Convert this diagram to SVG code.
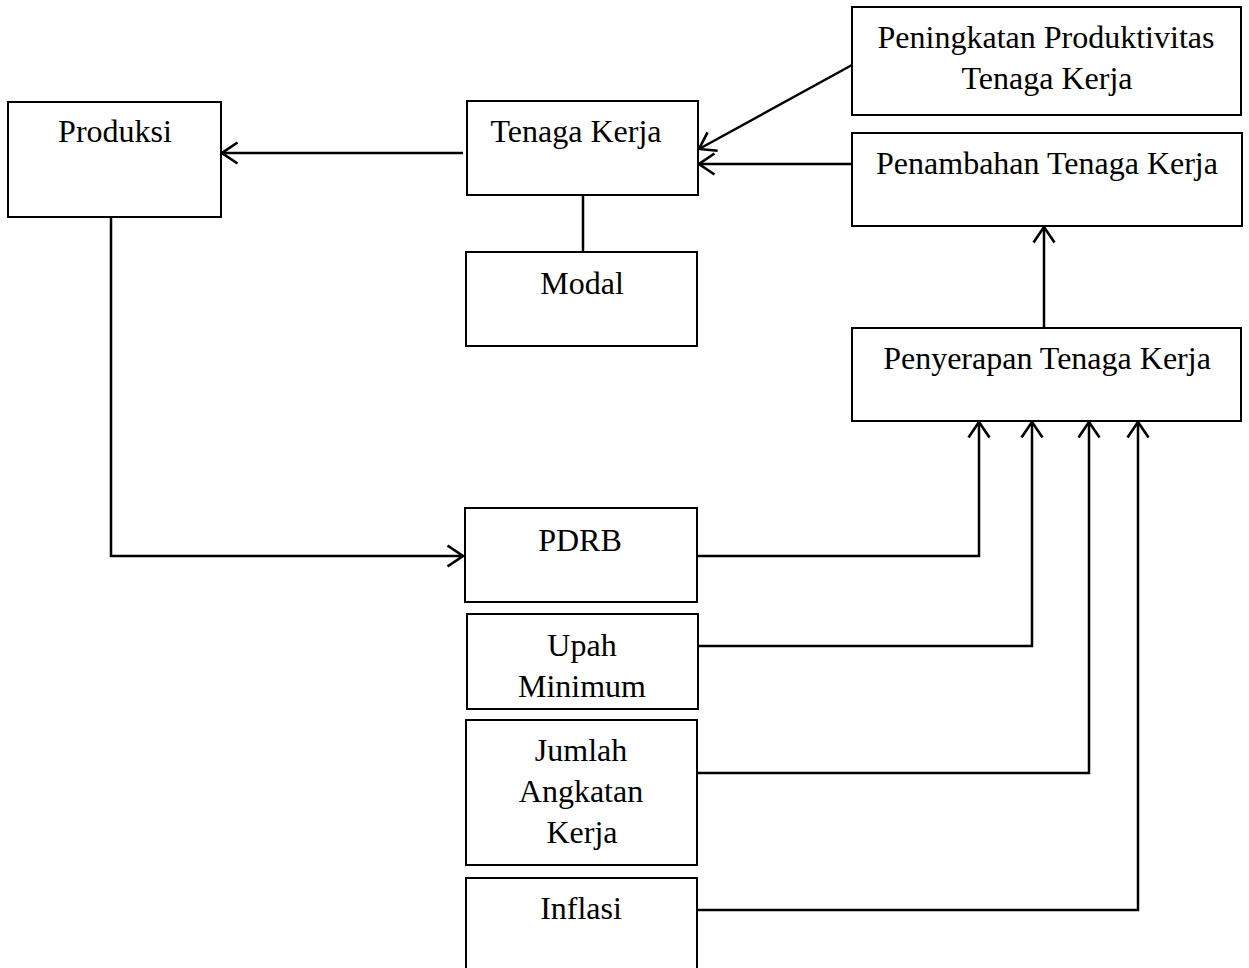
<svg xmlns="http://www.w3.org/2000/svg" width="1249" height="968" viewBox="0 0 1249 968">
<style>
.box{fill:#fff;stroke:#000;stroke-width:2}
.lbl{font-family:"Liberation Serif","Times New Roman",serif;font-size:32px;fill:#000;text-anchor:middle}
.con{fill:none;stroke:#000;stroke-width:2.5}
</style>
<defs>
<marker id="arr" viewBox="0 0 18 24" refX="16.5" refY="12" markerWidth="18" markerHeight="24" markerUnits="userSpaceOnUse" orient="auto">
<path d="M1,1.5 L16.5,12 L1,22.5" fill="none" stroke="#000" stroke-width="2.6"/>
</marker>
</defs>
<rect width="1249" height="968" fill="#fff"/>
<g id="produksi"><rect class="box" x="8" y="102" width="213" height="115"/><text class="lbl" x="115" y="142">Produksi</text></g>
<g id="tenaga-kerja"><rect class="box" x="467" y="101" width="231" height="94"/><text class="lbl" x="576" y="142">Tenaga Kerja</text></g>
<g id="modal"><rect class="box" x="466" y="252" width="231" height="94"/><text class="lbl" x="582" y="294">Modal</text></g>
<g id="peningkatan"><rect class="box" x="852" y="7" width="389" height="108"/><text class="lbl" x="1046" y="48">Peningkatan Produktivitas</text><text class="lbl" x="1047" y="89">Tenaga Kerja</text></g>
<g id="penambahan"><rect class="box" x="852" y="133" width="390" height="93"/><text class="lbl" x="1047" y="174">Penambahan Tenaga Kerja</text></g>
<g id="penyerapan"><rect class="box" x="852" y="328" width="389" height="93"/><text class="lbl" x="1047" y="369">Penyerapan Tenaga Kerja</text></g>
<g id="pdrb"><rect class="box" x="465" y="508" width="232" height="94"/><text class="lbl" x="580" y="551">PDRB</text></g>
<g id="upah"><rect class="box" x="467" y="614" width="231" height="95"/><text class="lbl" x="582" y="656">Upah</text><text class="lbl" x="582" y="697">Minimum</text></g>
<g id="jumlah"><rect class="box" x="466" y="720" width="231" height="145"/><text class="lbl" x="581" y="761">Jumlah</text><text class="lbl" x="581" y="802">Angkatan</text><text class="lbl" x="582" y="843">Kerja</text></g>
<g id="inflasi"><rect class="box" x="466" y="878" width="231" height="110"/><text class="lbl" x="581" y="919">Inflasi</text></g>
<g id="connectors">
<line class="con" x1="463" y1="153" x2="222" y2="153" marker-end="url(#arr)"/>
<line class="con" x1="583" y1="195" x2="583" y2="252"/>
<line class="con" x1="852" y1="65" x2="699" y2="149" marker-end="url(#arr)"/>
<line class="con" x1="852" y1="164" x2="699" y2="164" marker-end="url(#arr)"/>
<line class="con" x1="1044" y1="328" x2="1044" y2="227" marker-end="url(#arr)"/>
<polyline class="con" points="111,217 111,556 463,556" marker-end="url(#arr)"/>
<polyline class="con" points="697,556 979,556 979,422" marker-end="url(#arr)"/>
<polyline class="con" points="698,646 1032,646 1032,422" marker-end="url(#arr)"/>
<polyline class="con" points="697,773 1089,773 1089,422" marker-end="url(#arr)"/>
<polyline class="con" points="697,910 1138,910 1138,422" marker-end="url(#arr)"/>
</g>
</svg>
